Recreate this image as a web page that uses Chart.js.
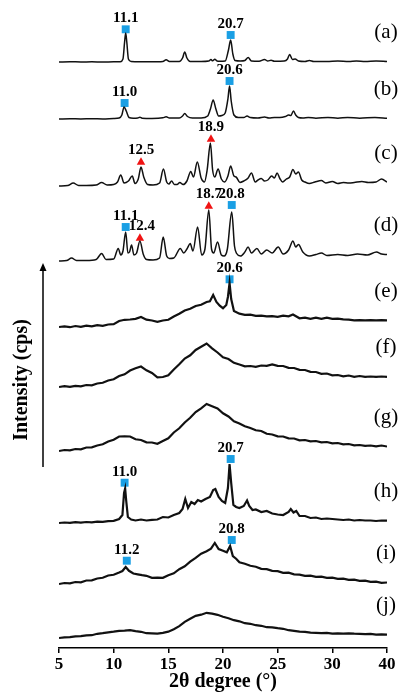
<!DOCTYPE html>
<html>
<head>
<meta charset="utf-8">
<script src="https://cdn.jsdelivr.net/npm/chart.js@4.4.1/dist/chart.umd.min.js"></script>
<style>
  html, body { margin: 0; padding: 0; background: #fff; }
  canvas { display: block; }
</style>
</head>
<body>
<canvas id="xrd" width="401" height="694"></canvas>
<script>
// XRD patterns (a)-(j), intensities in arbitrary units, stacked by offset

const tickLabels = ['5', '10', '15', '20', '25', '30', '40'];
const traceNames = ['(a)', '(b)', '(c)', '(d)', '(e)', '(f)', '(g)', '(h)', '(i)', '(j)'];
const traceOffsets = [586, 529, 462, 387, 321, 261, 197, 125, 64, 10];

// (a)
const aX = [5, 6, 7, 8, 9, 10, 10.6, 10.85, 11.0, 11.1, 11.2, 11.35, 11.6, 12.5, 13.5, 14.5, 14.8, 15.1, 16.0, 16.3,
  16.5, 16.7, 17.0, 18.0, 18.7, 18.9, 19.05, 19.25, 19.45, 19.7, 20.2, 20.5, 20.7, 20.9, 21.1, 21.6, 22.0, 22.3, 22.6, 23.3,
  23.8, 24.1, 24.4, 24.7, 25.6, 25.9, 26.1, 26.35, 26.6, 26.9, 27.5, 27.9, 28.3, 29.5, 30.5, 31.5, 32.2, 33, 34, 35];
const aY = [0, 0.3, 0, 0.2, 0, 0.2, 0.3, 3, 20, 29, 20, 3, 0.5, 0.3, 0.2, 0.5, 2.2, 0.5, 0.5, 4,
  10, 4, 0.5, 0.5, 1, 2.5, 1.2, 2.8, 1, 0.8, 1, 12, 22, 8, 1.5, 1, 1.5, 4.5, 1, 0.8,
  2.5, 1, 1.8, 0.8, 1, 3, 7.5, 2.5, 3, 1, 0.5, 1.5, 0.5, 0.5, 1, 0.5, 1, 0.5, 1, 0.5];

// (b)
const bX = [5, 6, 7, 8, 9, 10, 10.5, 10.75, 10.95, 11.15, 11.4, 11.8, 12.2, 12.4, 12.6, 13.5, 14.5, 14.8, 15.1, 16.0,
  16.3, 16.5, 16.75, 17.2, 18.0, 18.6, 18.85, 19.1, 19.35, 19.6, 19.9, 20.2, 20.45, 20.6, 20.75, 21.0, 21.4, 21.9, 22.2, 22.5,
  23.2, 23.8, 24.2, 24.7, 25.2, 25.7, 26.0, 26.2, 26.45, 26.65, 26.9, 27.3, 27.8, 28.5, 29.6, 30.5, 31.4, 32.5, 33.9, 35];
const bY = [0, 0.3, 0, 0.3, 0, 0.5, 1, 4, 12, 8, 1.5, 0.8, 1, 1.8, 0.8, 0.5, 1.2, 2.2, 1, 1,
  3, 5.5, 2.5, 1, 1, 3, 10, 19, 10, 3, 3.5, 6, 20, 33, 18, 4, 1.5, 1.5, 3, 1.5,
  1, 2, 1, 1.5, 1.5, 2.5, 4, 3.5, 8, 4, 1.5, 1, 1.5, 0.8, 1.5, 0.8, 1.5, 0.8, 1.5, 0.8];

// (c)
const cX = [5, 5.8, 6.3, 6.8, 7.5, 8.4, 8.9, 9.4, 10, 10.35, 10.65, 10.95, 11.35, 11.7, 11.95, 12.25, 12.5, 12.75, 13.1, 13.6,
  14.2, 14.55, 14.85, 15.05, 15.3, 15.55, 15.8, 16.05, 16.35, 16.7, 17.05, 17.3, 17.65, 18, 18.3, 18.55, 18.85, 19.05, 19.25, 19.55,
  19.85, 20.15, 20.45, 20.7, 21, 21.2, 21.55, 21.9, 22.3, 22.6, 22.95, 23.2, 23.5, 23.8, 24.1, 24.45, 24.7, 24.95, 25.2, 25.45,
  25.8, 26.1, 26.4, 26.65, 26.9, 27.2, 27.5, 27.9, 28.4, 29, 29.4, 30, 30.5, 31, 31.5, 32, 32.7, 33.3, 34, 34.5, 35];
const cY = [0, 0.5, 3, 0.5, 0.5, 1, 3.5, 1, 1.5, 4, 11, 3, 5, 10, 2.5, 7, 19, 9, 1.5, 1,
  3, 17, 4, 2, 5, 1.5, 1.5, 3.5, 1.5, 5, 14.5, 9, 24, 8, 4, 16, 43, 16, 9, 17,
  7, 4, 10, 20, 10, 9, 3.5, 5, 8, 13, 4, 6, 7.5, 5, 6, 10, 8, 13, 7.5, 4,
  7, 9, 16.5, 12, 14, 6, 4, 2.5, 4, 5.5, 3, 4.5, 2.5, 3.5, 3, 3.5, 4.5, 3.5, 4, 7, 4];

// (d)
const dX = [5, 5.7, 6.15, 6.6, 7.5, 8.4, 8.9, 9.3, 10, 10.42, 10.65, 10.85, 11.1, 11.3, 11.45, 11.64, 11.85, 12.1, 12.4, 12.7,
  13, 13.6, 14.2, 14.53, 14.85, 15.1, 15.5, 16.1, 16.4, 16.7, 17, 17.25, 17.68, 18.05, 18.35, 18.7, 18.95, 19.15, 19.5, 19.85,
  20.1, 20.4, 20.8, 21.05, 21.25, 21.6, 22, 22.3, 22.6, 23.1, 23.5, 24, 24.5, 25.05, 25.5, 26, 26.4, 26.65, 26.9, 27.3,
  27.9, 28.5, 29, 29.5, 30.5, 31.4, 32.3, 33.2, 34.04, 34.5, 35];
const dY = [0, 0.5, 3, 0.5, 0.5, 1.5, 7.5, 1.5, 2, 12.5, 6, 10, 29, 8, 9, 16, 6, 8, 20, 7,
  1.5, 1, 3, 24, 5, 2.5, 3, 12.5, 8, 12, 17.5, 10, 34, 6, 12, 51, 12, 8, 19, 6,
  5, 12, 49, 15, 7.5, 5, 9, 14, 8, 12.5, 7, 11, 8, 14, 7, 11, 20, 14, 16.5, 9,
  5, 6.5, 8, 5.5, 6.5, 5.5, 7, 6, 9, 7, 6.5];

// (e)
const eX = [5, 5.5, 6, 6.5, 7, 7.5, 8, 8.5, 9, 9.5, 10, 10.5, 11, 11.5, 12, 12.5, 13, 13.5, 14, 14.5,
  15, 15.5, 16, 16.5, 17, 17.5, 18, 18.5, 18.8, 19.1, 19.4, 19.7, 20, 20.3, 20.45, 20.6, 20.75, 21, 21.5, 22,
  22.5, 23, 23.5, 24, 24.5, 25, 25.5, 26, 26.4, 27, 27.5, 28, 28.5, 29, 29.5, 30, 30.5, 31, 31.5, 32,
  32.5, 33, 33.5, 34, 34.5, 35];
const eY = [0, 0.7, -0.2, 1, 0.2, 1.3, 0.6, 1.8, 1.2, 2.5, 2.8, 6, 7.2, 7.5, 8.2, 10, 7.3, 6.5, 5.2, 6.5,
  7.2, 10.5, 13.2, 16.5, 18.2, 21, 22.2, 25, 25.8, 32, 25, 21.3, 18.8, 22, 30, 44, 28, 16, 13.3, 12.2,
  12.3, 11.2, 11.3, 10.7, 10.8, 10.2, 11.3, 10.7, 12.5, 8.7, 9.3, 8.2, 9.3, 8.2, 9.3, 8.2, 8.3, 7.7, 7.3, 6.7,
  6.8, 6.7, 6.8, 6.7, 6.8, 6.7];

// shared 0.5 degree grid for (f), (g), (j)
const gridX = [5, 5.5, 6, 6.5, 7, 7.5, 8, 8.5, 9, 9.5, 10, 10.5, 11, 11.5, 12, 12.5, 13, 13.5, 14, 14.5,
  15, 15.5, 16, 16.5, 17, 17.5, 18, 18.5, 19, 19.5, 20, 20.5, 21, 21.5, 22, 22.5, 23, 23.5, 24, 24.5,
  25, 25.5, 26, 26.5, 27, 27.5, 28, 28.5, 29, 29.5, 30, 30.5, 31, 31.5, 32, 32.5, 33, 33.5, 34, 34.5, 35];

const fY = [0, 0.8, 0.2, 1.2, 0.7, 2, 1.7, 3.5, 4.2, 6.5, 7.7, 11, 12.7, 16.5, 18.7, 20.5, 16.7, 14, 9.7, 10,
  11.7, 17.5, 22.7, 28.5, 31.7, 37, 40.2, 43.5, 38.7, 34.5, 29.7, 28, 24.2, 22.5, 20.7, 21, 20.2, 21.5, 21.2, 22.5,
  21.2, 21, 19.2, 19, 17.2, 17, 15.2, 15, 13.2, 13.5, 11.7, 12, 10.7, 11.5, 10.2, 11, 10.2, 10.5, 10.2, 10.5, 10.2];

const gY = [0, 1, 0.7, 2, 1.7, 3.5, 3.7, 5.5, 6.7, 9.5, 11.2, 14.5, 14.7, 14.5, 11.7, 11, 8.7, 8.5, 7.2, 10,
  12.7, 18.5, 22.7, 28.5, 33.2, 39, 42.7, 47, 44.7, 42.5, 37.7, 34.5, 29.7, 27.5, 24.7, 23, 20.7, 20, 17.2, 16.5,
  14.7, 14.5, 12.7, 12.5, 10.7, 11, 9.7, 10, 8.7, 9, 7.7, 8, 6.7, 7, 5.7, 6, 5.2, 5.5, 4.7, 5.5, 4.5];

// (h)
const hX = [5, 5.5, 6, 6.5, 7, 7.5, 8, 8.5, 9, 9.5, 10, 10.5, 10.8, 10.95, 11.05, 11.15, 11.3, 11.6, 12, 12.5,
  13, 13.5, 14, 14.5, 15, 15.5, 16, 16.3, 16.55, 16.8, 17.1, 17.4, 17.7, 18, 18.4, 18.8, 19.1, 19.3, 19.6, 19.9,
  20.2, 20.45, 20.6, 20.75, 20.95, 21.2, 21.5, 21.9, 22.2, 22.4, 22.7, 23, 23.5, 24, 24.5, 25, 25.5, 26, 26.2, 26.45,
  26.7, 27, 27.5, 28, 28.5, 29, 29.5, 30, 30.5, 31, 31.5, 32, 32.5, 33, 33.5, 34, 34.5, 35];
const hY = [0, 0.5, 0.2, 0.8, 0.4, 1, 0.7, 1.3, 1.2, 1.8, 2.2, 4, 8, 30, 34.5, 22, 6, 3.5, 2.5, 3.5,
  2.5, 3.2, 3.5, 6, 5.5, 8, 10, 14, 24, 15, 21, 19, 23, 21.5, 24, 26, 33, 34, 26, 22,
  20, 35, 59, 40, 18, 16, 15, 17, 22.5, 17, 13, 13.5, 11, 12, 9.5, 8.5, 8, 11, 14, 10.5,
  12, 7, 7, 5, 5.5, 4, 4.5, 4, 3.5, 3, 3.5, 2.5, 3, 2.5, 2.5, 2, 2.5, 2.3];

// (i)
const iX = [5, 5.5, 6, 6.5, 7, 7.5, 8, 8.5, 9, 9.5, 10, 10.5, 10.8, 11.1, 11.4, 11.8, 12.2, 12.6, 13, 13.5,
  14, 14.5, 15, 15.5, 16, 16.5, 17, 17.5, 18, 18.5, 18.9, 19.25, 19.6, 20, 20.35, 20.65, 20.9, 21.2, 21.5, 22,
  22.5, 23, 23.5, 24, 24.5, 25, 25.5, 26, 26.5, 27, 27.5, 28, 28.5, 29, 29.5, 30, 30.5, 31, 31.5, 32,
  32.5, 33, 33.5, 34, 34.5, 35];
const iY = [0, 1, 0.7, 2, 1.7, 3.5, 3.7, 5.5, 6.2, 8.5, 9.2, 11.5, 13, 17, 13.2, 10.5, 9.7, 8.8, 8.2, 6.2,
  6.3, 6.2, 8.8, 10.7, 14.8, 17.7, 22.3, 26.2, 30.3, 32.7, 35.3, 41, 35, 33.3, 31.7, 38, 28, 25.3, 21.7, 20.3,
  18.2, 17.3, 15.2, 14.8, 13.2, 12.8, 11.2, 11.3, 9.7, 9.3, 8.2, 8.3, 7.2, 7.3, 6.2, 6.3, 5.2, 5.3, 4.2, 4.3,
  3.2, 3.3, 2.2, 2.3, 1.2, 1.5];

// (j)
const jY = [0, 0.7, 0.8, 1.7, 1.8, 2.7, 2.8, 4.2, 4.8, 5.7, 6.3, 7.2, 7.3, 7.8, 6.8, 6.2, 4.8, 4.7, 4.3, 5.2,
  6.3, 8.7, 11.8, 16.2, 19.3, 22.2, 23.3, 25.2, 24.3, 23.2, 21.3, 19.7, 17.8, 16.7, 14.8, 14.2, 12.8, 12.2, 10.8, 10.7,
  9.8, 9.2, 7.8, 7.2, 6.3, 6.2, 5.3, 5.2, 4.8, 5.2, 4.3, 4.7, 4.3, 4.7, 4.3, 4.2, 3.8, 4.2, 3.3, 3.7, 3.3];

// marked reflections (stacked intensity units)
const squareX = [11.1, 20.7, 11.0, 20.6, 11.1, 20.8, 20.6, 11.0, 20.7, 11.2, 20.8];
const squareY = [618.7, 613, 545, 567, 421, 443, 368.7, 165.3, 189, 87.3, 108];
const squareText = ['11.1', '20.7', '11.0', '20.6', '11.1', '20.8', '20.6', '11.0', '20.7', '11.2', '20.8'];
const triangleX = [12.5, 18.9, 12.4, 18.7];
const triangleY = [485.8, 508.8, 409.8, 441.8];
const triangleText = ['12.5', '18.9', '12.4', '18.7'];

const SERIF = "'Liberation Serif', 'Times New Roman', serif";

const traceX = [aX, bX, cX, dX, eX, gridX, gridX, hX, iX, gridX];
const traceY = [aY, bY, cY, dY, eY, fY, gY, hY, iY, jY];

const datasets = traceX.map((xs, t) => ({
    label: traceNames[t],
    data: xs.map((x, k) => ({ x: x, y: traceY[t][k] + traceOffsets[t] })),
    borderColor: '#111',
    borderWidth: t < 4 ? 1.5 : 2.2,
    pointRadius: 0,
    tension: 0,
    cubicInterpolationMode: t < 4 ? 'monotone' : 'default',
    fill: false,
}));

datasets.push({
    type: 'scatter',
    label: 'squares',
    data: squareX.map((x, k) => ({ x: x, y: squareY[k] })),
    pointStyle: 'rect',
    pointRadius: 5.6,
    backgroundColor: '#1a9fe4',
    borderWidth: 0,
});
datasets.push({
    type: 'scatter',
    label: 'triangles',
    data: triangleX.map((x, k) => ({ x: x, y: triangleY[k] })),
    pointStyle: 'triangle',
    pointRadius: 4.9,
    backgroundColor: '#f01313',
    borderWidth: 0,
});

// peak values, sample labels and the intensity arrow
const annotate = {
    id: 'annotate',
    afterDatasetsDraw(chart) {
        const { ctx, chartArea, scales: { x, y } } = chart;
        ctx.save();
        ctx.fillStyle = '#000';
        ctx.textAlign = 'center';
        ctx.textBaseline = 'middle';

        ctx.font = 'bold 15px ' + SERIF;
        squareX.forEach((v, k) => {
            ctx.fillText(squareText[k], x.getPixelForValue(v), y.getPixelForValue(squareY[k]) - 11);
        });
        triangleX.forEach((v, k) => {
            ctx.fillText(triangleText[k], x.getPixelForValue(v) + (k === 2 ? 2 : 0), y.getPixelForValue(triangleY[k]) - 12);
        });

        ctx.font = '21px ' + SERIF;
        traceNames.forEach((name, t) => {
            const ys = traceY[t];
            const level = ys[ys.length - 1] + traceOffsets[t] + 29;
            ctx.fillText(name, chartArea.right - 1, y.getPixelForValue(level));
        });

        // arrow
        const ax = chartArea.left - 16;
        const yTop = y.getPixelForValue(385);
        const yBot = y.getPixelForValue(181);
        ctx.strokeStyle = '#000';
        ctx.lineWidth = 1.5;
        ctx.beginPath();
        ctx.moveTo(ax, yBot);
        ctx.lineTo(ax, yTop + 6);
        ctx.stroke();
        ctx.beginPath();
        ctx.moveTo(ax, yTop);
        ctx.lineTo(ax - 3.5, yTop + 8);
        ctx.lineTo(ax + 3.5, yTop + 8);
        ctx.closePath();
        ctx.fill();

        ctx.translate(chartArea.left - 37, y.getPixelForValue(268));
        ctx.rotate(-Math.PI / 2);
        ctx.font = 'bold 20px ' + SERIF;
        ctx.fillText('Intensity (cps)', 0, 0);
        ctx.restore();
    }
};

new Chart(document.getElementById('xrd'), {
    type: 'line',
    data: { datasets: datasets },
    options: {
        responsive: false,
        animation: false,
        layout: { padding: { left: 59, right: 14, top: 8, bottom: 0 } },
        plugins: {
            legend: { display: false },
            tooltip: { enabled: false },
        },
        scales: {
            x: {
                type: 'linear',
                min: 5,
                max: 35,
                border: { display: true, color: '#000', width: 1.5 },
                grid: { display: true, drawOnChartArea: false, drawTicks: true, tickLength: 5, color: '#000', lineWidth: 1.5 },
                ticks: {
                    stepSize: 5,
                    color: '#000',
                    padding: 1,
                    maxRotation: 0,
                    font: { family: SERIF, size: 17, weight: 'bold' },
                    callback: (value, index) => tickLabels[index],
                },
                title: {
                    display: true,
                    text: '2θ degree (°)',
                    color: '#000',
                    padding: 0,
                    font: { family: SERIF, size: 20, weight: 'bold' },
                },
                afterFit: (scale) => { scale.height = 46; },
            },
            y: { display: false, min: 0, max: 640 },
        },
    },
    plugins: [annotate],
});
</script>
</body>
</html>
